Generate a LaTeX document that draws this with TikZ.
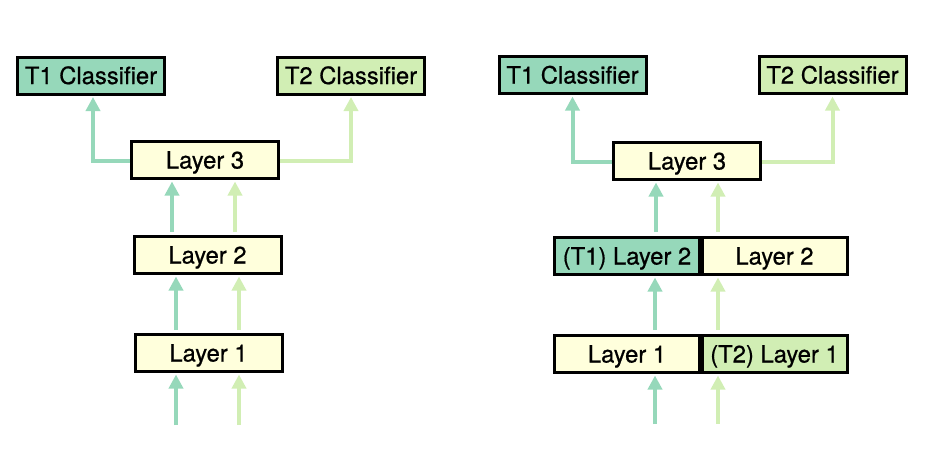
\documentclass[tikz,border=0pt]{standalone}
\usepackage{fontspec}
\setmainfont{TeX Gyre Heros}
\newfontfamily\boxfont[FakeBold=0.7]{TeX Gyre Heros}
\usetikzlibrary{arrows.meta}
\definecolor{tone}{RGB}{150,216,186}
\definecolor{ttwo}{RGB}{209,238,180}
\definecolor{lyel}{RGB}{255,255,220}
\begin{document}
\begin{tikzpicture}[x=1pt,y=-1pt,
  box/.style={draw=black,line width=3pt,minimum width=147pt,minimum height=37pt,inner sep=0pt,
    text height=17pt,text depth=0pt,
    font=\boxfont\fontsize{23.8}{28}\selectfont,anchor=center},
  halfbox/.style={box,minimum width=145pt},
  arr/.style={line width=4pt,-{Triangle[width=14pt,length=14pt]},shorten >=1.5pt},
  aone/.style={arr,draw=tone},
  atwo/.style={arr,draw=ttwo}]
\useasboundingbox (0,0) rectangle (940,448);
% ---------- left ----------
\node[box,fill=tone] (lT1) at (91,75.5) {T1 Classifier};
\node[box,fill=ttwo] (lT2) at (351,75.5) {T2 Classifier};
\node[box,fill=lyel] (lL3) at (205,160) {Layer 3};
\node[box,fill=lyel] (lL2) at (207.5,255) {Layer 2};
\node[box,fill=lyel] (lL1) at (208.5,353) {Layer 1};
\coordinate (la1) at (176,425);
\coordinate (la2) at (239,425);
\coordinate (lb1) at (176,330);
\coordinate (lb2) at (239,330);
\coordinate (lc1) at (172,232);
\coordinate (lc2) at (235,232);
\draw[aone] (la1) -- (la1 |- lL1.south);
\draw[atwo] (la2) -- (la2 |- lL1.south);
\draw[aone] (lb1) -- (lb1 |- lL2.south);
\draw[atwo] (lb2) -- (lb2 |- lL2.south);
\draw[aone] (lc1) -- (lc1 |- lL3.south);
\draw[atwo] (lc2) -- (lc2 |- lL3.south);
\draw[aone] ([yshift=-1pt]lL3.west) -| ([xshift=2pt]lT1.south);
\draw[atwo] ([yshift=-1pt]lL3.east) -| (lT2.south);
% ---------- right ----------
\node[box,fill=tone] (rT1) at (572.5,75) {T1 Classifier};
\node[box,fill=ttwo] (rT2) at (832.5,75) {T2 Classifier};
\node[box,fill=lyel] (rL3) at (687,161) {Layer 3};
\node[halfbox,fill=tone] (rL2a) at (627,256) {(T1) Layer 2};
\node[halfbox,fill=lyel] (rL2b) at (774.5,256) {Layer 2};
\node[halfbox,fill=lyel] (rL1a) at (627,354) {Layer 1};
\node[halfbox,fill=ttwo] (rL1b) at (774.5,354) {(T2) Layer 1};
\coordinate (ra1) at (655,424);
\coordinate (ra2) at (718,424);
\coordinate (rb1) at (655,330);
\coordinate (rb2) at (718,330);
\coordinate (rc1) at (656,232);
\coordinate (rc2) at (718,232);
\draw[aone] (ra1) -- (ra1 |- rL1a.south);
\draw[atwo] (ra2) -- (ra2 |- rL1b.south);
\draw[aone] (rb1) -- (rb1 |- rL2a.south);
\draw[atwo] (rb2) -- (rb2 |- rL2b.south);
\draw[aone] (rc1) -- (rc1 |- rL3.south);
\draw[atwo] (rc2) -- (rc2 |- rL3.south);
\draw[aone] ([yshift=-1pt]rL3.west) -| (rT1.south);
\draw[atwo] ([yshift=-1pt]rL3.east) -| (rT2.south);
\end{tikzpicture}
\end{document}
